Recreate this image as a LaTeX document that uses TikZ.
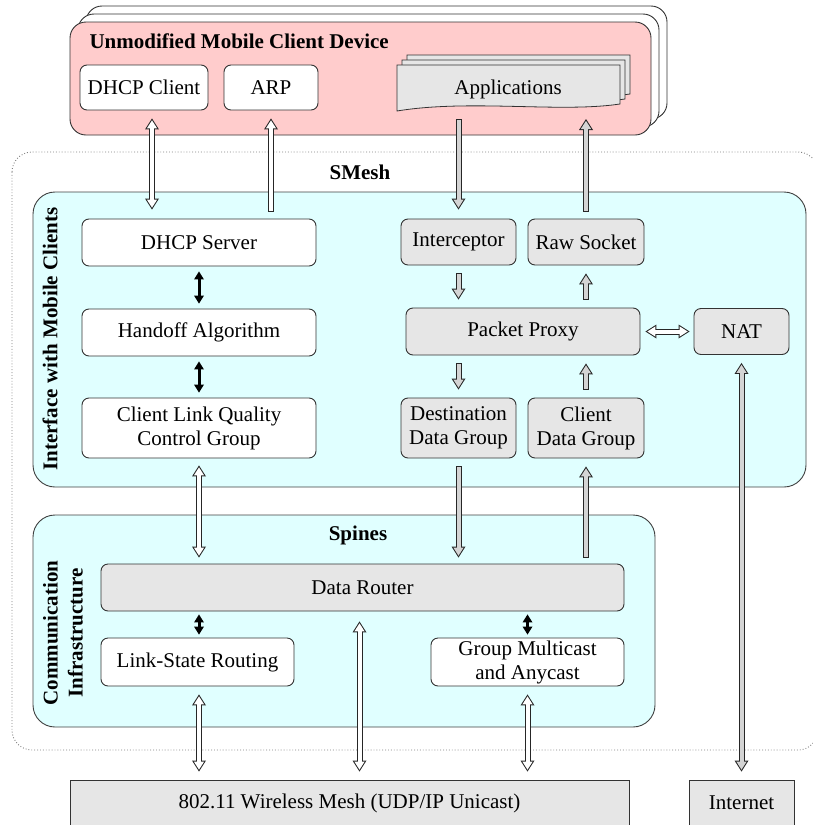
\documentclass[tikz,border=0pt]{standalone}
\usepackage{fontspec}
\setmainfont{Liberation Serif}
\usetikzlibrary{calc,arrows.meta}

\definecolor{devpink}{HTML}{FFCCCC}
\definecolor{meshcyan}{HTML}{E0FFFF}
\definecolor{boxgray}{HTML}{E6E6E6}
\definecolor{arrgray}{HTML}{D4D4D4}

\tikzset{
  every node/.style={font=\fontsize{21}{24}\selectfont},
  ttl/.style={font=\fontsize{21}{25}\selectfont\bfseries},
  box/.style={draw=black!80, line width=0.9pt, rounded corners=7pt, align=center, inner sep=0pt},
  wbox/.style={box, fill=white},
  gbox/.style={box, fill=boxgray},
  hollow/.style={line width=4pt, draw=#1, shorten <=1pt, shorten >=1.9pt,
    arrows={-Triangle[length=8.1pt,width=10.3pt,line width=0pt]},
    preaction={draw=black!85, line width=6pt, shorten <=0pt, shorten >=0pt,
      arrows={-Triangle[length=11pt,width=14pt,line width=0pt]}}},
  hollow/.default=white,
  hollowboth/.style={line width=4pt, draw=#1, shorten <=1.9pt, shorten >=1.9pt,
    arrows={Triangle[length=8.1pt,width=10.3pt,line width=0pt]-Triangle[length=8.1pt,width=10.3pt,line width=0pt]},
    preaction={draw=black!85, line width=6pt, shorten <=0pt, shorten >=0pt,
      arrows={Triangle[length=11pt,width=14pt,line width=0pt]-Triangle[length=11pt,width=14pt,line width=0pt]}}},
  hollowboth/.default=white,
  solidboth/.style={line width=3pt, arrows={Triangle[length=8pt,width=10pt,line width=0pt]-Triangle[length=8pt,width=10pt,line width=0pt]}}
}

\begin{document}
\begin{tikzpicture}[x=1pt,y=1pt]
\useasboundingbox (0,0) rectangle (812,-825);

% mobile client device (stacked)
\foreach \d in {16,8}
  \draw[black!80, fill=white, rounded corners=16pt, line width=0.9pt] (70+\d,-22+\d) rectangle (651+\d,-135+\d);
\draw[black!80, fill=devpink, rounded corners=16pt, line width=0.9pt] (70,-22) rectangle (651,-135);
\node[ttl, anchor=west] (devtitle) at (86,-41) {Unmodified Mobile Client Device};
\node[wbox, minimum width=128pt, minimum height=45pt] (dhcpc) at (144,-87.5) {DHCP Client};
\node[wbox, minimum width=94pt, minimum height=45pt] (arp) at (271,-87.5) {ARP};
\foreach \d in {10,5,0}
  \draw[black!80, fill=boxgray, line width=0.8pt, shift={(\d,\d)}] (397,-65) -- (620,-65) -- (620,-104) .. controls (560,-113) and (470,-99) .. (397,-111) -- cycle;
\node (apps) at (508,-89) {Applications};
\coordinate (appsb) at (508,-119);

% SMesh
\draw[gray, dotted, line width=0.9pt, rounded corners=20pt] (12,-152) rectangle (818,-750);
\node[ttl] (smesh) at (360,-172) {SMesh};

% interface with mobile clients
\draw[black!75, fill=meshcyan, line width=0.9pt, rounded corners=22pt] (33,-192) rectangle (806,-487);
\node[ttl, rotate=90] (iflabel) at (50,-339) {Interface with Mobile Clients};
\node[wbox, minimum width=234pt, minimum height=47pt] (dhcps) at (199,-242.5) {DHCP Server};
\node[wbox, minimum width=234pt, minimum height=47pt] (handoff) at (199,-332.5) {Handoff Algorithm};
\node[wbox, minimum width=234pt, minimum height=60pt] (clq) at (199,-428) {Client Link Quality\\Control Group};
\node[gbox, minimum width=115pt, minimum height=46pt] (icpt) at (458.5,-242) {Interceptor};
\node[gbox, minimum width=116pt, minimum height=46pt] (raw) at (586,-242) {Raw Socket};
\node[gbox, minimum width=234pt, minimum height=47pt] (proxy) at (523,-331.5) {Packet Proxy};
\node[gbox, minimum width=95pt, minimum height=46pt] (nat) at (741.5,-331.5) {NAT};
\node[gbox, minimum width=115pt, minimum height=60pt] (dest) at (458.5,-428) {Destination\\Data Group};
\node[gbox, minimum width=116pt, minimum height=60pt] (cdg) at (586,-428) {Client\\Data Group};

% spines
\draw[black!75, fill=meshcyan, line width=0.9pt, rounded corners=22pt] (33,-515) rectangle (655,-727);
\node[ttl] (spines) at (358,-535) {Spines};
\node[ttl, rotate=90, align=center] (cilabel) at (63,-633) {Communication\\Infrastructure};
\node[gbox, minimum width=523pt, minimum height=47pt] (router) at (362.5,-587.5) {Data Router};
\node[wbox, minimum width=193pt, minimum height=48pt] (lsr) at (197.5,-662) {Link-State Routing};
\node[wbox, minimum width=193pt, minimum height=48pt] (gma) at (527.5,-662) {Group Multicast\\and Anycast};

% outside
\node[draw=black!80, line width=0.9pt, fill=boxgray, minimum width=559pt, minimum height=60pt, inner sep=0pt] (mesh) at (349.5,-810) {};
\node at (349.5,-803) {802.11 Wireless Mesh (UDP/IP Unicast)};
\node[draw=black!80, line width=0.9pt, fill=boxgray, minimum width=105pt, minimum height=60pt, inner sep=0pt] (inet) at (741.5,-810) {};
\node at (741.5,-803) {Internet};

% arrows
\draw[hollowboth] ($(dhcpc.south)+(8,-8)$) -- ($(dhcpc.south |- dhcps.north)+(8,9)$);
\draw[hollow] ($(arp.south |- dhcps.north)+(0,7)$) -- ($(arp.south)+(0,-8)$);
\draw[hollow=arrgray] (icpt.north |- appsb) -- ($(icpt.north)+(0,9)$);
\draw[hollow=arrgray] ($(raw.north)+(0,7)$) -- (raw.north |- appsb);
\draw[hollow=arrgray] ($(icpt.south)+(0,-8)$) -- ($(icpt.south |- proxy.north)+(0,8)$);
\draw[hollow=arrgray] ($(raw.south |- proxy.north)+(0,8)$) -- ($(raw.south)+(0,-8)$);
\draw[hollowboth] ($(proxy.east)+(5,0)$) -- ($(nat.west |- proxy.east)+(-4,0)$);
\draw[hollow=arrgray] ($(icpt.south |- proxy.south)+(0,-8)$) -- ($(dest.north)+(0,8)$);
\draw[hollow=arrgray] ($(cdg.north)+(0,8)$) -- ($(raw.south |- proxy.south)+(0,-8)$);
\draw[solidboth] ($(dhcps.south)+(0,-5)$) -- ($(handoff.north)+(0,5)$);
\draw[solidboth] ($(handoff.south)+(0,-5)$) -- ($(clq.north)+(0,5)$);
\draw[hollowboth] ($(clq.south)+(0,-7)$) -- ($(clq.south |- router.north)+(0,6)$);
\draw[hollow=arrgray] ($(dest.south)+(0,-8)$) -- ($(dest.south |- router.north)+(0,6)$);
\draw[hollow=arrgray] ($(cdg.south |- router.north)+(0,6)$) -- ($(cdg.south)+(0,-8)$);
\draw[solidboth] ($(clq.south |- router.south)+(0,-3)$) -- ($(clq.south |- lsr.north)+(0,3)$);
\draw[solidboth] ($(gma.north |- router.south)+(0,-3)$) -- ($(gma.north)+(0,3)$);
\draw[hollowboth] ($(clq.south |- lsr.south)+(0,-8)$) -- ($(clq.south |- mesh.north)+(0,8)$);
\draw[hollowboth] ($(router.south)+(-3,-10)$) -- ($(router.south |- mesh.north)+(-3,8)$);
\draw[hollowboth] ($(gma.south)+(0,-8)$) -- ($(gma.south |- mesh.north)+(0,8)$);
\draw[hollowboth=arrgray] ($(nat.south)+(0,-8)$) -- ($(inet.north)+(0,8)$);
\end{tikzpicture}
\end{document}
